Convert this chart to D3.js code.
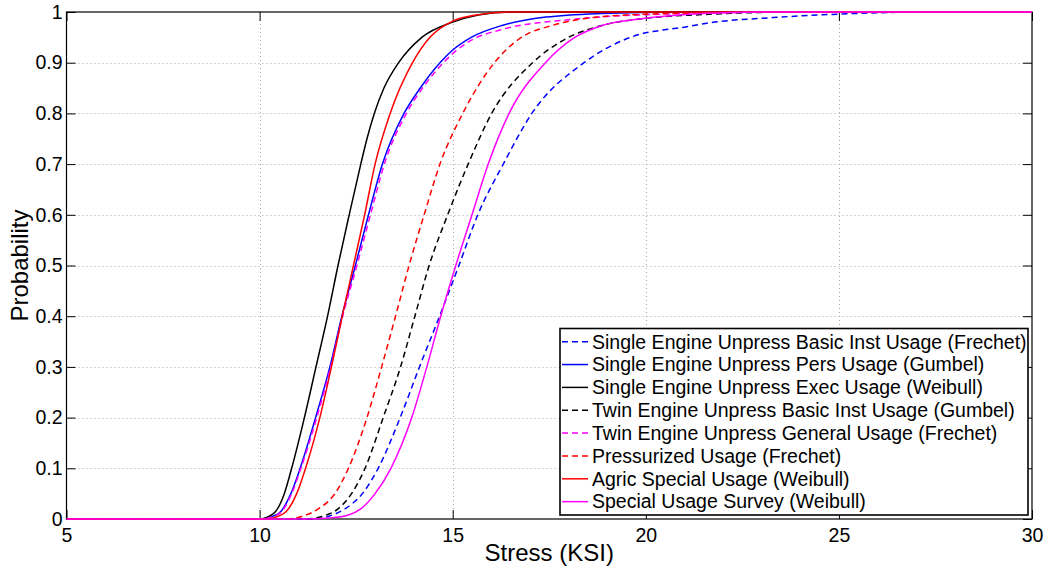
<!DOCTYPE html>
<html><head><meta charset="utf-8">
<script src="https://cdn.jsdelivr.net/npm/d3@7"></script>
<style>
body{margin:0;background:#fff;}
svg{display:block;font-family:"Liberation Sans",Arial,Helvetica,sans-serif;}
</style>
</head><body>
<svg id="chart" width="1045" height="569"></svg>
<script>
// ---------- data ----------
const xTicks = [5, 10, 15, 20, 25, 30];
const yTicks = [0, 0.1, 0.2, 0.3, 0.4, 0.5, 0.6, 0.7, 0.8, 0.9, 1];
const yTickLabels = ["0", "0.1", "0.2", "0.3", "0.4", "0.5", "0.6", "0.7", "0.8", "0.9", "1"];
const xLabel = "Stress (KSI)";
const yLabel = "Probability";

const seriesNames = [
  "Single Engine Unpress Basic Inst Usage (Frechet)",
  "Single Engine Unpress Pers Usage (Gumbel)",
  "Single Engine Unpress Exec Usage (Weibull)",
  "Twin Engine Unpress Basic Inst Usage (Gumbel)",
  "Twin Engine Unpress General Usage (Frechet)",
  "Pressurized Usage (Frechet)",
  "Agric Special Usage (Weibull)",
  "Special Usage Survey (Weibull)"
];

const seBasicInstX = [5, 11.36, 11.77, 12.21, 12.66, 13.07, 13.64, 14.14, 14.66, 15.16, 15.65, 16.31, 17.05, 18.40, 19.60, 21.06, 21.58, 23.29, 25.03, 27.6, 30];
const seBasicInstP = [0, 0, 0.005, 0.02, 0.05, 0.1, 0.2, 0.3, 0.4, 0.5, 0.6, 0.7, 0.8, 0.9, 0.95, 0.971, 0.978, 0.989, 0.996, 1, 1];

const sePersX = [5, 9.98, 10.48, 10.81, 11.05, 11.45, 11.82, 12.13, 12.48, 12.82, 13.18, 13.74, 14.16, 14.67, 15.0, 15.48, 16.3, 17.42, 18.82, 21, 30];
const sePersP = [0, 0, 0.01, 0.05, 0.1, 0.2, 0.3, 0.4, 0.5, 0.6, 0.7, 0.8, 0.85, 0.9, 0.925, 0.95, 0.974, 0.99, 0.997, 1, 1];

const seExecX = [5, 9.98, 10.35, 10.64, 10.83, 11.16, 11.46, 11.76, 12.03, 12.32, 12.62, 12.78, 12.97, 13.22, 13.60, 14.2, 15.0, 15.66, 16.5, 30];
const seExecP = [0, 0, 0.01, 0.05, 0.1, 0.2, 0.3, 0.4, 0.5, 0.6, 0.7, 0.75, 0.8, 0.85, 0.9, 0.95, 0.98, 0.994, 1, 1];

const twBasicInstX = [5, 11.18, 11.61, 12.03, 12.38, 12.73, 13.20, 13.65, 14.02, 14.39, 14.87, 15.40, 16.01, 17.07, 17.95, 18.89, 19.93, 21.48, 24, 30];
const twBasicInstP = [0, 0, 0.005, 0.02, 0.05, 0.1, 0.2, 0.3, 0.4, 0.5, 0.6, 0.7, 0.8, 0.9, 0.948, 0.974, 0.987, 0.995, 1, 1];

const twGeneralX = [5, 10.0, 10.5, 10.83, 11.07, 11.48, 11.84, 12.15, 12.52, 12.87, 13.23, 13.80, 14.22, 14.76, 15.0, 15.45, 16.3, 18.04, 19.77, 24, 30];
const twGeneralP = [0, 0, 0.01, 0.05, 0.1, 0.2, 0.3, 0.4, 0.5, 0.6, 0.7, 0.8, 0.85, 0.9, 0.918, 0.943, 0.966, 0.985, 0.994, 1, 1];

const pressurizedX = [5, 10.66, 11.09, 11.52, 11.95, 12.30, 12.78, 13.16, 13.52, 13.87, 14.26, 14.67, 15.26, 16.08, 16.74, 17.60, 18.89, 20.63, 24, 30];
const pressurizedP = [0, 0, 0.005, 0.02, 0.05, 0.1, 0.2, 0.3, 0.4, 0.5, 0.6, 0.7, 0.8, 0.9, 0.948, 0.974, 0.991, 0.997, 1, 1];

const agricX = [5, 10.14, 10.61, 10.96, 11.19, 11.56, 11.86, 12.14, 12.43, 12.72, 12.99, 13.38, 13.96, 14.41, 15.0, 15.6, 16.5, 30];
const agricP = [0, 0, 0.01, 0.05, 0.1, 0.2, 0.3, 0.4, 0.5, 0.6, 0.7, 0.8, 0.9, 0.95, 0.982, 0.994, 1, 1];

const surveyX = [5, 11.2, 11.8, 12.3, 12.62, 12.99, 13.40, 13.94, 14.33, 14.69, 15.08, 15.50, 15.92, 16.46, 17.40, 18.12, 18.89, 19.93, 21.48, 23, 30];
const surveyP = [0, 0, 0.002, 0.008, 0.02, 0.05, 0.1, 0.2, 0.3, 0.4, 0.5, 0.6, 0.7, 0.8, 0.9, 0.948, 0.974, 0.987, 0.997, 1, 1];

// ---------- styles ----------
const seriesColors = ["#0000ff", "#0000ff", "#000000", "#000000", "#ff00ff", "#ff0000", "#ff0000", "#ff00ff"];
const seriesDashed = [true, false, false, true, true, true, false, false];

const seriesX = [seBasicInstX, sePersX, seExecX, twBasicInstX, twGeneralX, pressurizedX, agricX, surveyX];
const seriesP = [seBasicInstP, sePersP, seExecP, twBasicInstP, twGeneralP, pressurizedP, agricP, surveyP];

// ---------- layout ----------
const L = 66.5, R = 1032, T = 12, B = 519;
const svg = d3.select("#chart");
const x = d3.scaleLinear().domain([5, 30]).range([L, R]);
const y = d3.scaleLinear().domain([0, 1]).range([B, T]);

svg.append("rect").attr("x", 0).attr("y", 0).attr("width", 1045).attr("height", 569).attr("fill", "#fff");

// grid
const grid = svg.append("g").attr("stroke", "#a8a8a8").attr("stroke-width", 1).attr("stroke-dasharray", "1,3");
grid.selectAll("line.gx").data(xTicks.filter(d => d > 5 && d < 30)).join("line")
  .attr("x1", d => Math.round(x(d)) + 0.5).attr("x2", d => Math.round(x(d)) + 0.5)
  .attr("y1", T).attr("y2", B);
grid.selectAll("line.gy").data(yTicks.filter(d => d > 0 && d < 1)).join("line")
  .attr("y1", d => Math.round(y(d)) + 0.5).attr("y2", d => Math.round(y(d)) + 0.5)
  .attr("x1", L).attr("x2", R);

// axes (ticks pointing inward)
const fmtY = (d) => yTickLabels[yTicks.indexOf(d)];
const axB = svg.append("g").attr("transform", `translate(0,${B})`)
  .call(d3.axisBottom(x).tickValues(xTicks).tickSizeInner(-9).tickSizeOuter(0).tickPadding(9).tickFormat(d3.format("d")));
const axL = svg.append("g").attr("transform", `translate(${L},0)`)
  .call(d3.axisLeft(y).tickValues(yTicks).tickSizeInner(-9).tickSizeOuter(0).tickPadding(4).tickFormat(fmtY));
const axT = svg.append("g").attr("transform", `translate(0,${T})`)
  .call(d3.axisTop(x).tickValues(xTicks).tickSizeInner(-9).tickSizeOuter(0).tickFormat(""));
const axR = svg.append("g").attr("transform", `translate(${R},0)`)
  .call(d3.axisRight(y).tickValues(yTicks).tickSizeInner(-9).tickSizeOuter(0).tickFormat(""));
[axB, axL, axT, axR].forEach(g => {
  g.select(".domain").remove();
  g.selectAll(".tick line").attr("stroke", "#000").attr("stroke-width", 1);
  g.selectAll("text").attr("font-size", 19.5).attr("fill", "#000").attr("font-family", "Liberation Sans, Arial, sans-serif");
});

// frame
svg.append("rect").attr("x", L).attr("y", T).attr("width", R - L).attr("height", B - T)
  .attr("fill", "none").attr("stroke", "#000").attr("stroke-width", 1.2);

// curves (drawn in legend order, last on top)
svg.append("clipPath").attr("id", "clip").append("rect")
  .attr("x", L).attr("y", T - 1).attr("width", R - L).attr("height", B - T + 2);
const line = d3.line().x(d => x(d[0])).y(d => y(d[1])).curve(d3.curveMonotoneX);
const curves = svg.append("g").attr("clip-path", "url(#clip)");
seriesNames.forEach((name, i) => {
  const pts = seriesX[i].map((v, k) => [v, seriesP[i][k]]);
  curves.append("path").datum(pts)
    .attr("d", line)
    .attr("fill", "none")
    .attr("stroke", seriesColors[i])
    .attr("stroke-width", 1.5)
    .attr("stroke-linejoin", "round")
    .attr("stroke-dasharray", seriesDashed[i] ? "6,4" : null);
});

// axis titles
svg.append("text").attr("x", (L + R) / 2).attr("y", 561).attr("text-anchor", "middle")
  .attr("font-size", 24).attr("fill", "#000").text(xLabel);
svg.append("text").attr("transform", `translate(28,${(T + B) / 2}) rotate(-90)`).attr("text-anchor", "middle")
  .attr("font-size", 24).attr("fill", "#000").text(yLabel);

// legend
const lgX = 560, lgY = 328.5, lgW = 468, lgH = 186.5, rowH = 22.85;
const lg = svg.append("g");
lg.append("rect").attr("x", lgX).attr("y", lgY).attr("width", lgW).attr("height", lgH)
  .attr("fill", "#fff").attr("stroke", "#000").attr("stroke-width", 1.6);
seriesNames.forEach((name, i) => {
  const cy = lgY + 13.2 + i * rowH;
  lg.append("line").attr("x1", lgX + 2).attr("x2", lgX + 28).attr("y1", cy).attr("y2", cy)
    .attr("stroke", seriesColors[i]).attr("stroke-width", 1.5)
    .attr("stroke-dasharray", seriesDashed[i] ? "6,4" : null);
  lg.append("text").attr("x", lgX + 32).attr("y", cy).attr("dy", "0.35em")
    .attr("font-size", 19.5).attr("fill", "#000").text(name);
});
</script>
</body></html>
